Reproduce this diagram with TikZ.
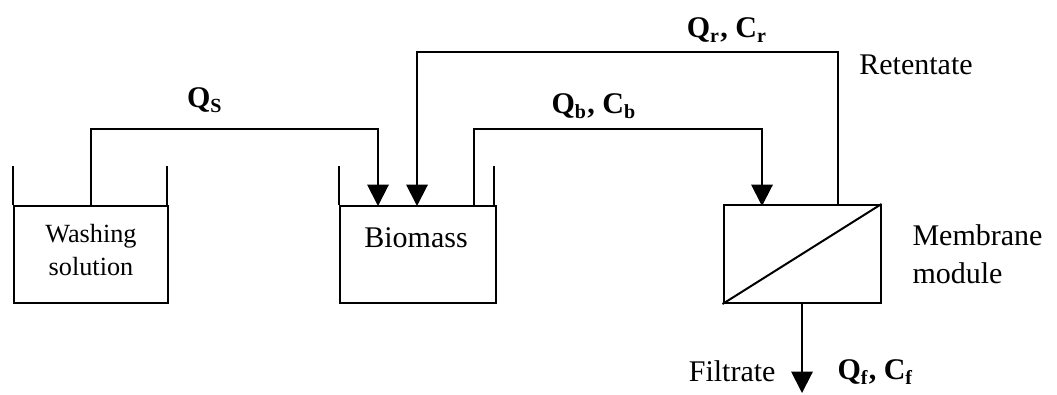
\documentclass[tikz,border=0pt]{standalone}
\usepackage{fontspec}
\setmainfont{Liberation Serif}
\usetikzlibrary{arrows.meta}
\tikzset{
  tank/.style={draw,rectangle,line width=0.8pt,minimum width=61.6pt,minimum height=38.8pt,inner sep=0pt},
  unit/.style={draw,rectangle,line width=0.8pt,minimum width=62.8pt,minimum height=39.2pt,inner sep=0pt},
  wall/.style={line width=0.8pt},
  pipe/.style={line width=0.8pt},
  flow/.style={-{Triangle[width=8.6pt,length=8.6pt]},line width=0.8pt},
  txt/.style={font=\fontsize{12}{15.2}\selectfont,inner sep=0pt},
  small/.style={font=\fontsize{10.5}{13.2}\selectfont,inner sep=0pt,align=center},
  qlbl/.style={font=\fontsize{12}{14}\selectfont\bfseries,inner sep=0pt},
}

\begin{document}
\begin{tikzpicture}[x=0.4pt,y=-0.4pt]
  \useasboundingbox (0,0) rectangle (1057,394);

  % tanks and membrane module
  \node[tank] (wash) at (91,254.5) {};
  \node[tank,minimum width=62.4pt] (bio) at (418,254.5) {};
  \node[unit] (memb) at (802,254) {};
  \draw[wall] (wash.north west) -- ++(0,-39);
  \draw[wall] ([xshift=-0.8pt]wash.north east) -- ++(0,-39);
  \draw[wall] (bio.north west) -- ++(0,-39);
  \draw[wall] ([xshift=-1.2pt]bio.north east) -- ++(0,-39);
  \draw[pipe] (memb.south west) -- (memb.north east);

  \node[small] (washlbl) at (91,250) {Washing\\solution};
  \node[txt] (biolbl) at (416,238) {Biomass};
  \node[txt,align=left,anchor=west] (memblbl) at (912,254) {Membrane\\module};

  % connection points
  \coordinate (bioinS) at (378,206);
  \coordinate (bioinR) at (417,206);
  \coordinate (bioout) at (474,206);
  \coordinate (membin) at (762,206);
  \coordinate (membout) at (838,206);
  \coordinate (sTop) at (91,129);
  \coordinate (bTop) at (474,129);
  \coordinate (rTop) at (838,52);
  \coordinate (filt) at (802,393);

  % flows
  \draw[flow] (wash.north) -- (sTop) -| (bioinS);
  \draw[flow] (bioout) -- (bTop) -| (membin);
  \draw[flow] (membout) -- (rTop) -| (bioinR);
  \draw[flow] (memb.south) -- (filt);

  % labels
  \node[qlbl] (qs) at (205,100) {Q\textsubscript{S}};
  \node[qlbl] (qb) at (594,106) {Q\textsubscript{b}, C\textsubscript{b}};
  \node[qlbl] (qr) at (727,30) {Q\textsubscript{r}, C\textsubscript{r}};
  \node[txt] (ret) at (916,65) {Retentate};
  \node[txt,anchor=east] (filtlbl) at (776,371) {Filtrate};
  \node[qlbl,anchor=west] (qf) at (837,372) {Q\textsubscript{f}, C\textsubscript{f}};
\end{tikzpicture}
\end{document}
